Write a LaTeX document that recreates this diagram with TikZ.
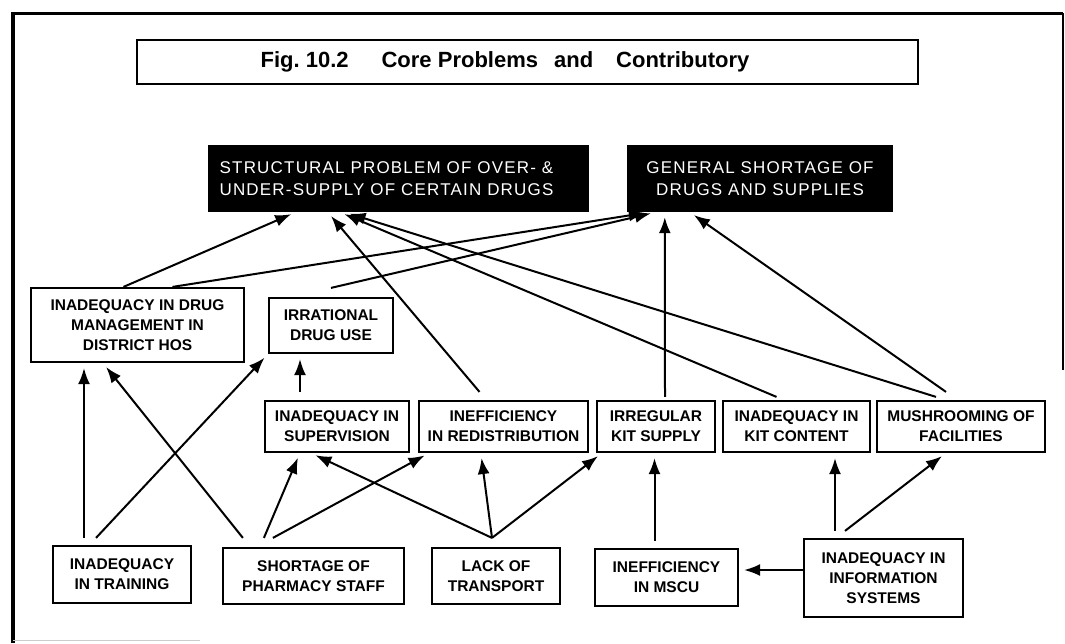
\documentclass[tikz,border=0pt]{standalone}
\usepackage{fontspec}
\setmainfont{Liberation Sans}
\newfontfamily\corefont[LetterSpace=7]{Liberation Sans}
\usetikzlibrary{arrows.meta,positioning,calc}

\begin{document}
\begin{tikzpicture}[x=1pt, y=-1pt,
  box/.style={draw, rectangle, line width=2.2pt, align=center, inner sep=1pt,
    font=\fontsize{15.5}{20}\selectfont\bfseries},
  core/.style={rectangle, fill=black, text=white, align=center, inner sep=1pt,
    font=\fontsize{17}{22}\selectfont\corefont},
  cause/.style={-{Latex[length=16pt,width=12pt]}, line width=2pt, shorten >=5pt}]
\useasboundingbox (0,0) rectangle (1065,643);

% 外框
\draw[line width=4.5pt] (13,643) -- (13,13);
\draw[line width=3pt] (11,13) -- (1063,13);
\draw[line width=1.8pt] (1063,13) -- (1063,370);
\draw[gray!40, line width=1pt] (13,640) -- (200,640);

% 标题
\node[draw, rectangle, line width=2.6pt, minimum width=781pt, minimum height=44pt,
  font=\fontsize{22}{26}\selectfont\bfseries] (title) at (527.5,62)
  {Fig.~10.2\hspace{33pt}Core Problems\hspace{16pt}and\hspace{23pt}Contributory\hspace*{45pt}};

% 核心问题
\node[core, minimum width=381pt, minimum height=67pt] (core1) at (398.5,178.5)
  {STRUCTURAL PROBLEM OF OVER- \&\hspace*{24pt}\\UNDER-SUPPLY OF CERTAIN DRUGS\hspace*{24pt}};
\node[core, minimum width=266pt, minimum height=67pt] (core2) at (760,178.5)
  {GENERAL SHORTAGE OF\\DRUGS AND SUPPLIES};

% 中间原因
\node[box, minimum width=213pt, minimum height=74pt] (drugmgmt) at (137.5,325)
  {INADEQUACY IN DRUG\\MANAGEMENT IN\\DISTRICT HOS};
\node[box, minimum width=124pt, minimum height=55pt] (irrational) at (331,325.5)
  {IRRATIONAL\\DRUG USE};
\node[box, minimum width=144pt, minimum height=51pt] (supervision) at (337,426.5)
  {INADEQUACY IN\\SUPERVISION};
\node[box, minimum width=169pt, minimum height=51pt] (redistrib) at (503.5,426.5)
  {INEFFICIENCY\\IN REDISTRIBUTION};
\node[box, minimum width=118pt, minimum height=51pt] (kitsupply) at (656,426.5)
  {IRREGULAR\\KIT SUPPLY};
\node[box, minimum width=147pt, minimum height=51pt] (kitcontent) at (796.5,426.5)
  {INADEQUACY IN\\KIT CONTENT};
\node[box, minimum width=168pt, minimum height=51pt] (facilities) at (961,426.5)
  {MUSHROOMING OF\\FACILITIES};

% 底层原因
\node[box, minimum width=138pt, minimum height=57pt] (training) at (122,574.5)
  {INADEQUACY\\IN TRAINING};
\node[box, minimum width=181pt, minimum height=56pt] (staff) at (313.5,576)
  {SHORTAGE OF\\PHARMACY STAFF};
\node[box, minimum width=128pt, minimum height=56pt] (transport) at (496,576)
  {LACK OF\\TRANSPORT};
\node[box, minimum width=143pt, minimum height=57pt] (mscu) at (666.5,577.5)
  {INEFFICIENCY\\IN MSCU};
\node[box, minimum width=159pt, minimum height=78pt] (infosys) at (883.5,578)
  {INADEQUACY IN\\INFORMATION\\SYSTEMS};

% 连接
\draw[cause] ([xshift=-14]drugmgmt.north) -- ([xshift=88]core1.south west);
\draw[cause] ([xshift=35]drugmgmt.north) -- ([xshift=23]core2.south west);
\draw[cause] ([yshift=9]irrational.north) -- ([xshift=29]core2.south west);
\draw[cause] ([xshift=-24,yshift=8]redistrib.north) -- ([xshift=120]core1.south west);
\draw[cause] ([xshift=-20,yshift=3]kitcontent.north) -- ([xshift=132]core1.south west);
\draw[cause] ([xshift=-25,yshift=3]facilities.north) -- ([xshift=137]core1.south west);
\draw[cause] ([xshift=9,yshift=3]kitsupply.north) -- ([xshift=38]core2.south west);
\draw[cause] ([xshift=-15,yshift=8]facilities.north) -- ([xshift=63]core2.south west);

\draw[cause] ([xshift=-37,yshift=8]supervision.north) -- ([xshift=-31]irrational.south);
\draw[cause] ([xshift=-38,yshift=7]training.north) -- ([xshift=-53.5]drugmgmt.south);
\draw[cause] ([xshift=-26,yshift=7]training.north) -- (irrational.south west);
\draw[cause] ([xshift=21,yshift=9]staff.north west) -- ([xshift=-34.5]drugmgmt.south);
\draw[cause] ([xshift=42,yshift=9]staff.north west) -- ([xshift=36]supervision.south west);
\draw[cause] ([xshift=51,yshift=9]staff.north west) -- ([xshift=11]redistrib.south west);
\draw[cause] ([xshift=-4,yshift=9]transport.north) -- ([xshift=47]supervision.south west);
\draw[cause] ([xshift=-4,yshift=9]transport.north) -- ([xshift=63]redistrib.south west);
\draw[cause] ([xshift=-4,yshift=9]transport.north) -- ([xshift=6]kitsupply.south west);
\draw[cause] ([xshift=-12,yshift=7]mscu.north) -- ([xshift=-1.5]kitsupply.south);
\draw[cause] ([xshift=-48.5,yshift=7]infosys.north) -- ([xshift=38.5]kitcontent.south);
\draw[cause] ([xshift=-38.5,yshift=7]infosys.north) -- ([xshift=70]facilities.south west);
\draw[cause] ([yshift=8]infosys.west) -- ([yshift=7.5]mscu.east);
\end{tikzpicture}
\end{document}
